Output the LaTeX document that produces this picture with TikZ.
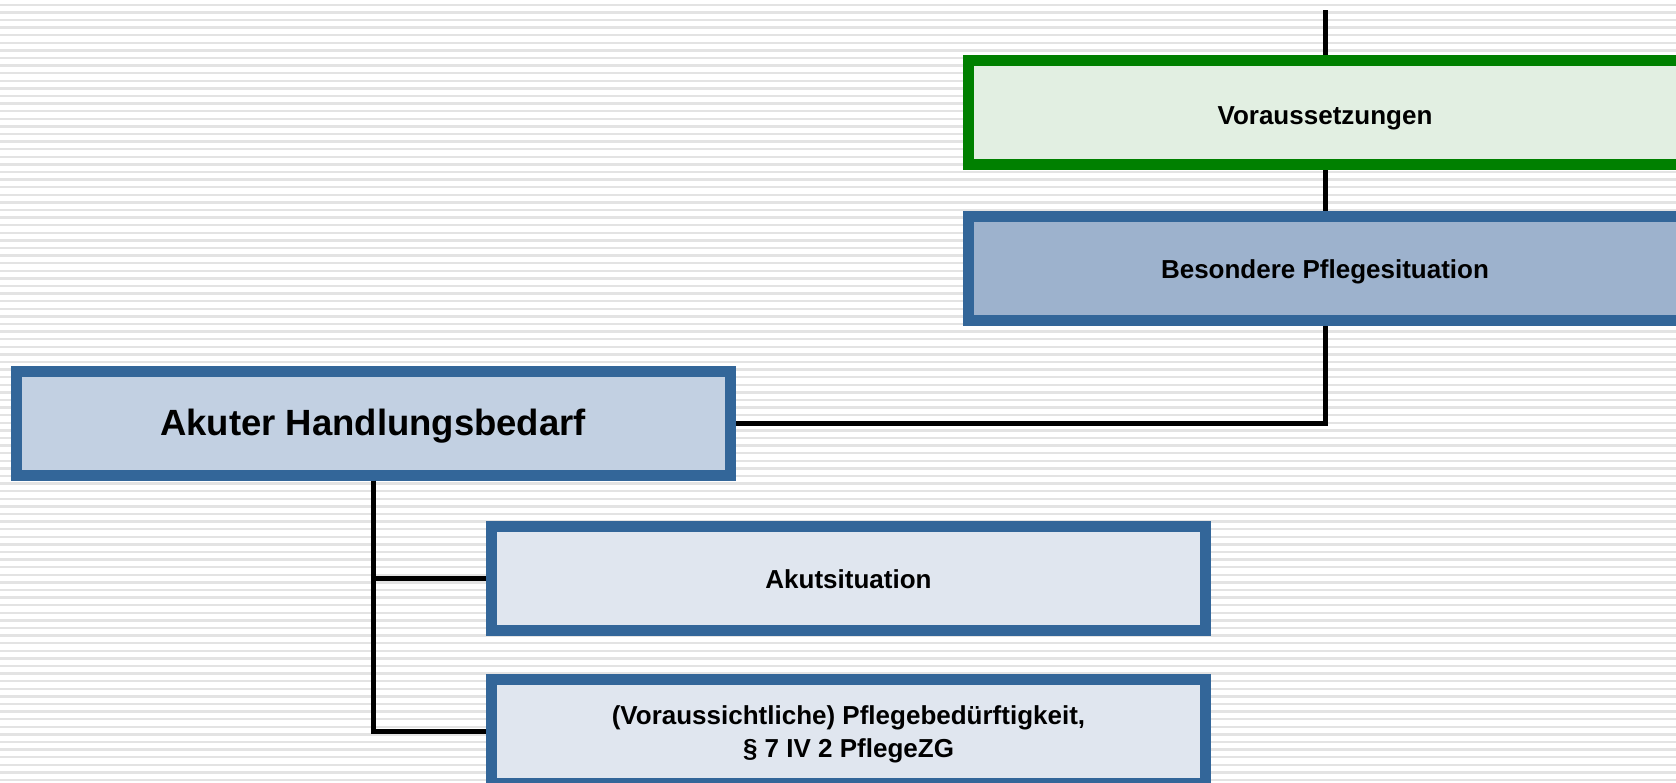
\documentclass[tikz,border=0pt]{standalone}
\usepackage{fontspec}
\setmainfont{Liberation Sans}
\definecolor{bluebd}{HTML}{336699}
\definecolor{greenbd}{HTML}{008000}
\definecolor{fillA}{HTML}{C2D0E2}
\definecolor{fillB}{HTML}{9DB2CD}
\definecolor{fillC}{HTML}{E0E6EF}
\definecolor{fillV}{HTML}{E2EFE2}
\definecolor{stripe}{HTML}{E3E3E3}
\begin{document}
\begin{tikzpicture}[x=1pt,y=-1pt,
  box/.style={draw=bluebd, line width=11pt, minimum width=714pt, minimum height=104pt,
    inner sep=0pt, outer sep=5.5pt},
  lab/.style={font=\bfseries\fontsize{26}{33}\selectfont, align=center, inner sep=0pt},
  biglab/.style={lab, font=\bfseries\fontsize{36.5}{44}\selectfont},
  conn/.style={line width=5pt, black}]
\useasboundingbox (0,0) rectangle (1676,782);
\clip (0,0) rectangle (1676,782);
\fill[white] (0,0) rectangle (1676,782);
\foreach \k in {0,...,103} {
  \draw[stripe, line width=2.4pt] (0,{4.7+7.6*\k}) -- (1676,{4.7+7.6*\k});
}
\coordinate (top) at (1325,10);
\node[box, draw=greenbd, fill=fillV, label={[lab, yshift=-6pt]center:Voraussetzungen}] (vor) at (1325,112.5) {};
\node[box, fill=fillB, label={[lab, yshift=-3pt]center:Besondere Pflegesituation}] (bes) at (1325,268.5) {};
\node[box, fill=fillA, label={[biglab, yshift=-3pt]center:Akuter Handlungsbedarf}] (akuter) at (373,423) {};
\node[box, fill=fillC, label={[lab, yshift=-1pt]center:Akutsituation}] (akut) at (848.5,578) {};
\node[box, fill=fillC, label={[lab, yshift=-3pt]center:{(Voraussichtliche) Pflegebedürftigkeit,\\ § 7 IV 2 PflegeZG}}] (pflege) at (848.5,731) {};
\draw[conn] (top) -- (vor.north);
\draw[conn] (vor.south) -- (bes.north);
\draw[conn] (bes.south) |- (akuter.east);
\draw[conn] (akuter.south) |- (akut.west);
\draw[conn] (akuter.south) |- (pflege.west);
\end{tikzpicture}
\end{document}
